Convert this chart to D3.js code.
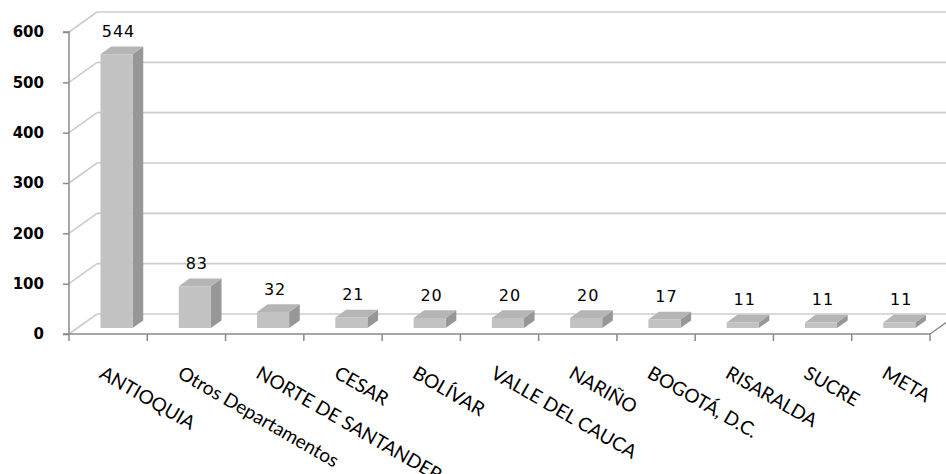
<!DOCTYPE html>
<html>
<head>
<meta charset="utf-8">
<script src="https://cdn.jsdelivr.net/npm/d3@7"></script>
<style>
  html, body { margin: 0; padding: 0; background: #fff; }
  svg { display: block; }
</style>
</head>
<body>
<script>
// ---- data ----
const categories = ["ANTIOQUIA", "Otros Departamentos", "NORTE DE SANTANDER", "CESAR", "BOLÍVAR",
  "VALLE DEL CAUCA", "NARIÑO", "BOGOTÁ, D.C.", "RISARALDA", "SUCRE", "META"];
const values = [544, 83, 32, 21, 20, 20, 20, 17, 11, 11, 11];
const yTicks = [0, 100, 200, 300, 400, 500, 600];

// ---- layout ----
const W = 946, H = 474;
const plotLeft = 69, plotRight = 930, plotBottom = 334, plotTop = 32;
const depth = { dx: 28, dy: -20 };     // 3D depth vector of the plot
const barFront = 0.30, barBack = 0.68;  // bar position inside depth

const svg = d3.select("body").append("svg").attr("width", W).attr("height", H);

const y = d3.scaleLinear().domain([0, 600]).range([plotBottom, plotTop]);
const x = d3.scaleBand().domain(categories).range([plotLeft, plotRight])
  .paddingInner(0.59).paddingOuter(0.295);

const gridColor = "#cccccc", axisColor = "#8a8a8a";

// back wall gridlines + left wall diagonals
const grid = svg.append("g");
yTicks.forEach(t => {
  const yy = y(t);
  grid.append("line")
    .attr("x1", plotLeft + depth.dx).attr("x2", plotRight + depth.dx + 20)
    .attr("y1", yy + depth.dy).attr("y2", yy + depth.dy)
    .attr("stroke", gridColor).attr("stroke-width", 1.6);
  grid.append("line")
    .attr("x1", plotLeft).attr("y1", yy)
    .attr("x2", plotLeft + depth.dx).attr("y2", yy + depth.dy)
    .attr("stroke", gridColor).attr("stroke-width", 1.6);
});

// bars (3D)
const bars = svg.append("g");
categories.forEach((c, i) => {
  const v = values[i];
  const x0 = x(c) + depth.dx * barFront, x1 = x0 + x.bandwidth();
  const oy = depth.dy * barFront;
  const yb = y(0) + oy, yt = y(v) + oy;
  const ddx = depth.dx * (barBack - barFront), ddy = depth.dy * (barBack - barFront);
  bars.append("path")
    .attr("d", `M${x1},${yb} L${x1 + ddx},${yb + ddy} L${x1 + ddx},${yt + ddy} L${x1},${yt} Z`)
    .attr("fill", "#979797");
  bars.append("path")
    .attr("d", `M${x0},${yt} L${x0 + ddx},${yt + ddy} L${x1 + ddx},${yt + ddy} L${x1},${yt} Z`)
    .attr("fill", "#b5b5b5");
  bars.append("rect")
    .attr("x", x0).attr("y", yt).attr("width", x.bandwidth()).attr("height", yb - yt)
    .attr("fill", "#c2c2c2");
  bars.append("text")
    .attr("x", x0 + x.bandwidth() / 2 + 2)
    .attr("y", yt + ddy - 15)
    .attr("dy", "0.35em")
    .attr("text-anchor", "middle")
    .attr("font-family", "DejaVu Sans")
    .attr("font-size", 16)
    .attr("letter-spacing", 1)
    .attr("fill", "#000")
    .text(v);
});

// y axis
const yAxis = svg.append("g").attr("transform", `translate(${plotLeft},0)`)
  .call(d3.axisLeft(y).tickValues(yTicks).tickSize(6).tickPadding(19).tickFormat(d3.format("d")));
yAxis.select(".domain").attr("stroke", axisColor).attr("stroke-width", 1.5)
  .attr("d", `M-6,${plotTop}H0V${plotBottom}H-6`);
yAxis.selectAll(".tick line").attr("stroke", axisColor).attr("stroke-width", 1.5);
yAxis.selectAll(".tick text").attr("font-family", "DejaVu Sans").attr("font-weight", "bold")
  .attr("font-size", 15).attr("fill", "#000");

// floor front edge + right diagonal
svg.append("line").attr("x1", plotLeft).attr("x2", plotRight).attr("y1", plotBottom).attr("y2", plotBottom)
  .attr("stroke", axisColor).attr("stroke-width", 1.5);
svg.append("line").attr("x1", plotRight).attr("y1", plotBottom)
  .attr("x2", plotRight + depth.dx).attr("y2", plotBottom + depth.dy)
  .attr("stroke", axisColor).attr("stroke-width", 1.5);

// category boundary ticks
const step = x.step();
d3.range(categories.length + 1).forEach(i => {
  const xx = plotLeft + i * step;
  svg.append("line").attr("x1", xx).attr("x2", xx).attr("y1", plotBottom).attr("y2", plotBottom + 7)
    .attr("stroke", axisColor).attr("stroke-width", 1.5);
});

// category labels
svg.append("g").selectAll("text").data(categories).join("text")
  .attr("transform", d => `translate(${x(d) + x.bandwidth() / 2 - 10},377) rotate(30)`)
  .attr("text-anchor", "start")
  .attr("font-family", "Lato")
  .attr("font-size", 19)
  .attr("fill", "#000")
  .text(d => d);
</script>
</body>
</html>
